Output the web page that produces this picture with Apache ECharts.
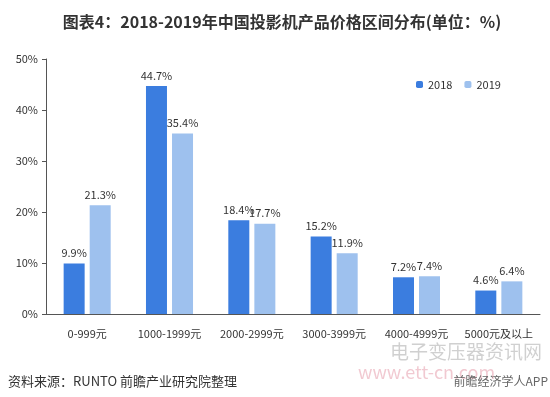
<!DOCTYPE html>
<html><head><meta charset="utf-8">
<script src="https://cdn.jsdelivr.net/npm/echarts@6/dist/echarts.min.js"></script>
<style>html,body{margin:0;padding:0;background:#fff}#c{width:550px;height:397px}</style>
</head><body><div id="c"></div>
<script>
const categories = ['0-999元','1000-1999元','2000-2999元','3000-3999元','4000-4999元','5000元及以上'];
const s2018 = [9.9, 44.7, 18.4, 15.2, 7.2, 4.6];
const s2019 = [21.3, 35.4, 17.7, 11.9, 7.4, 6.4];
const yTicks = [0, 10, 20, 30, 40, 50];
const font = '"Microsoft YaHei","Noto Sans CJK SC",sans-serif';
const chart = echarts.init(document.getElementById('c'));
chart.setOption({
  animation: false,
  title: {
    text: '图表4：2018-2019年中国投影机产品价格区间分布(单位：%)',
    left: 277, textAlign: 'center', top: 9,
    textStyle: {fontSize: 16, fontWeight: 'bold', color: '#333', fontFamily: font}
  },
  legend: {
    data: ['2018','2019'], top: 74, left: 411,
    itemWidth: 7, itemHeight: 7, itemGap: 12,
    textStyle: {fontSize: 11, color: '#333', fontFamily: font}
  },
  grid: {left: 46, right: 10, top: 59, bottom: 83},
  xAxis: {
    type: 'category', data: categories,
    axisLine: {lineStyle: {color: '#555'}},
    axisTick: {lineStyle: {color: '#555'}, length: 5},
    axisLabel: {fontSize: 11, color: '#333', margin: 14, fontFamily: font, interval: 0}
  },
  yAxis: {
    type: 'value', min: 0, max: 50, interval: 10,
    axisLine: {show: true, lineStyle: {color: '#555'}},
    axisTick: {show: true, lineStyle: {color: '#555'}, length: 4},
    splitLine: {show: false},
    axisLabel: {fontSize: 11, color: '#333', fontFamily: font,
      formatter: v => yTicks.includes(v) ? v + '%' : ''}
  },
  series: [
    {name: '2018', type: 'bar', data: s2018, barWidth: 21, barGap: '24%',
     itemStyle: {color: '#3b7ddf'},
     label: {show: true, position: 'top', formatter: '{c}%', fontSize: 11, color: '#333', fontFamily: font}},
    {name: '2019', type: 'bar', data: s2019, barWidth: 21,
     itemStyle: {color: '#9ec1ee'},
     label: {show: true, position: 'top', formatter: '{c}%', fontSize: 11, color: '#333', fontFamily: font}}
  ],
  graphic: [
    {type: 'text', left: 8, top: 375, style: {text: '资料来源：RUNTO 前瞻产业研究院整理', fontSize: 13, fill: '#333', fontFamily: font}},
    {type: 'text', left: 390, top: 342, style: {text: '电子变压器资讯网', fontSize: 19, fill: 'rgba(150,150,150,0.45)', fontFamily: font}},
    {type: 'text', left: 358, top: 363, style: {text: 'www.ett-cn.com', fontSize: 18, fill: 'rgba(220,120,140,0.4)', fontFamily: font}},
    {type: 'text', right: 2, top: 375, style: {text: '前瞻经济学人APP', fontSize: 12, fill: '#666', fontFamily: font}}
  ]
});
</script></body></html>
